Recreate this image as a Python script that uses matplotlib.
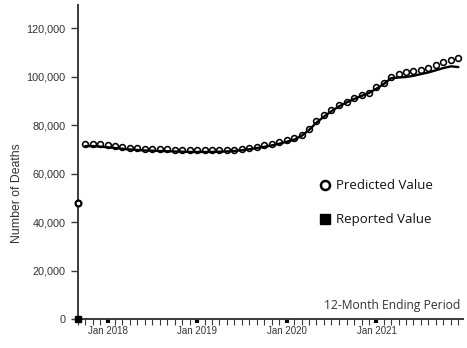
import matplotlib
matplotlib.use("Agg")
import matplotlib.pyplot as plt
import matplotlib.dates as mdates
import matplotlib.ticker as mticker
import numpy as np
import pandas as pd

# monthly 12-month ending counts, Oct 2017 .. Dec 2021
months = pd.date_range("2017-10-01", periods=51, freq="MS")

predicted = [72300, 72300, 72100, 71700, 71200, 70900, 70600, 70400, 70300, 70200,
             70100, 70000, 69800, 69700, 69600, 69500, 69500, 69500, 69600, 69700,
             69900, 70200, 70600, 71100, 71600, 72200, 72900, 73700, 74600, 75800,
             78200, 81500, 84000, 86000, 88300, 89700, 91000, 92300, 93300, 95500,
             97200, 99600, 101200, 101800, 102100, 102600, 103400, 104600, 105800,
             106900, 107800]

reported = [71300, 71300, 71100, 70800, 70500, 70200, 69900, 69700, 69500, 69400,
            69300, 69200, 69100, 69000, 68900, 68900, 68900, 68900, 69000, 69100,
            69300, 69600, 70000, 70500, 71000, 71600, 72300, 73100, 74000, 75500,
            78000, 81000, 83500, 85700, 87700, 89300, 90700, 92000, 93200, 95000,
            97000, 99300, 99600, 99800, 100300, 101000, 101700, 102600, 103500,
            104200, 103900]

y_ticks = [0, 20000, 40000, 60000, 80000, 100000, 120000]
year_ticks = pd.to_datetime(["2018-01-01", "2019-01-01", "2020-01-01", "2021-01-01"])

W, H = 467, 348
fig = plt.figure(figsize=(W / 100, H / 100), dpi=100)
ax = fig.add_axes([78 / W, 29 / H, (463 - 78) / W, (319 - 5) / H])

ax.plot(months, predicted, ls="none", marker="o", ms=4.2, mfc="white",
        mec="black", mew=1.15, zorder=2)
ax.plot(months, reported, color="black", lw=1.7, solid_capstyle="round", zorder=3)

x0 = pd.Timestamp("2017-09-01")
x1 = pd.Timestamp("2021-12-20")
ax.set_xlim(x0, x1)
ax.set_ylim(0, 129500)

# stray legend glyphs that sit on the axes
ax.plot([x0], [48000], marker="o", ms=4.2, mfc="white", mec="black", mew=1.6,
        clip_on=False, zorder=4)
ax.plot([x0], [0], marker="s", ms=4, color="black", clip_on=False, zorder=4)

for s in ("top", "right"):
    ax.spines[s].set_visible(False)
for s in ("left", "bottom"):
    ax.spines[s].set_color("#3a3a3a")
    ax.spines[s].set_linewidth(1.4)

ax.set_yticks(y_ticks)
ax.yaxis.set_major_formatter(mticker.FuncFormatter(lambda v, p: f"{int(v):,}"))
ax.tick_params(axis="y", length=5, width=1, color="#3a3a3a", pad=4,
               labelsize=7.8, labelcolor="#333333")
for lab in ax.get_yticklabels():
    lab.set_family(["Liberation Sans", "DejaVu Sans"])

ax.set_xticks(year_ticks)
ax.set_xticklabels([d.strftime("Jan %Y") for d in year_ticks], fontsize=7.0,
                   color="#333333", family=["Liberation Sans", "DejaVu Sans"])
ax.xaxis.set_minor_locator(mdates.MonthLocator())
ax.tick_params(axis="x", which="major", length=3, width=3, color="black", pad=2)
ax.tick_params(axis="x", which="minor", length=4, width=0.8, color="#3a3a3a")

fig.text(17 / W, 1 - 193 / H, "Number of Deaths", rotation=90, ha="center",
         va="center", fontsize=8.8, color="#333333",
         family=["Liberation Sans", "DejaVu Sans"])

# legend drawn by hand
fig.lines.append(plt.Line2D([325 / W], [1 - 185 / H], transform=fig.transFigure,
                            marker="o", ms=6.5, mfc="white", mec="black", mew=1.8))
fig.lines.append(plt.Line2D([325 / W], [1 - 219 / H], transform=fig.transFigure,
                            marker="s", ms=6.8, color="black"))
fig.text(336 / W, 1 - 185 / H, "Predicted Value", va="center", fontsize=9.5,
         family=["Open Sans"], color="#111111")
fig.text(336 / W, 1 - 219 / H, "Reported Value", va="center", fontsize=9.5,
         family=["Open Sans"], color="#111111")

fig.text(460 / W, 1 - 305 / H, "12-Month Ending Period", ha="right", va="center",
         fontsize=8.7, family=["Open Sans"], color="#333333")

fig.savefig("out.png", dpi=100)
